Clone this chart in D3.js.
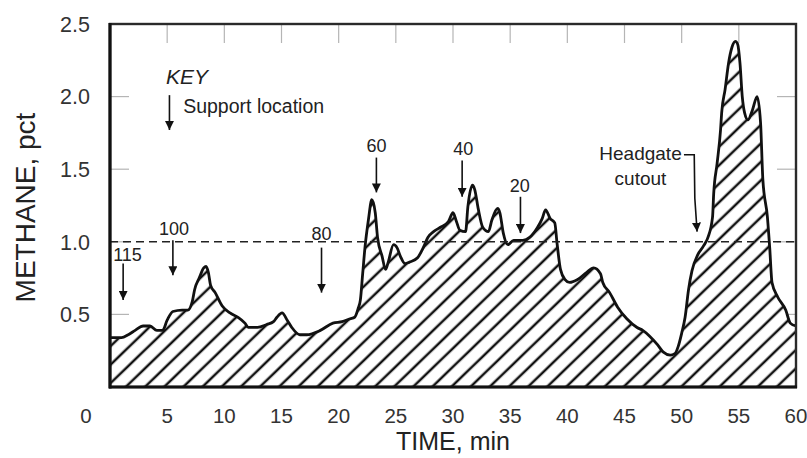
<!DOCTYPE html>
<html><head><meta charset="utf-8">
<script src="https://cdn.jsdelivr.net/npm/d3@7"></script>
<style>
html,body{margin:0;padding:0;background:#fff;}
svg{display:block;font-family:"Liberation Sans",Arial,Helvetica,sans-serif;}
</style></head>
<body>
<svg id="chart" width="807" height="458"></svg>
<script>
// ---- data ----
const time = [0.0,1.0,1.6,2.2,2.9,3.5,4.1,4.6,5.0,5.5,6.3,6.8,7.2,7.4,7.8,8.2,8.4,8.6,8.8,9.2,9.8,10.5,11.2,11.8,12.1,12.9,13.7,14.3,14.6,15.05,15.5,15.9,16.6,17.2,18.4,19.5,20.3,21.0,21.4,21.7,21.9,22.1,22.3,22.6,22.9,23.2,23.4,23.8,24.1,24.3,24.8,25.1,25.4,25.8,26.2,26.9,27.4,27.8,28.3,28.9,29.6,30.0,30.3,30.6,31.1,31.3,31.7,31.9,32.2,32.6,33.1,33.4,33.9,34.1,34.4,34.8,35.3,36.1,36.7,37.4,37.8,38.1,38.5,38.9,39.1,39.4,39.8,40.2,40.9,41.7,42.3,42.9,43.1,43.7,44.4,45.2,46.1,46.6,47.2,47.9,48.4,49.0,49.4,49.7,50.0,50.3,50.6,50.9,51.4,51.9,52.3,52.7,52.8,53.1,53.4,53.5,53.8,54.1,54.4,54.7,54.9,55.1,55.3,55.5,55.8,56.2,56.6,56.9,57.1,57.5,57.7,57.9,58.4,59.1,59.5,60.0];
const methane = [0.34,0.34,0.36,0.39,0.42,0.42,0.39,0.39,0.46,0.52,0.53,0.53,0.59,0.67,0.75,0.82,0.83,0.79,0.70,0.65,0.56,0.51,0.48,0.44,0.41,0.41,0.43,0.45,0.48,0.51,0.46,0.41,0.36,0.36,0.39,0.44,0.45,0.47,0.48,0.54,0.60,0.78,0.96,1.15,1.29,1.20,1.03,0.90,0.81,0.85,0.98,0.96,0.90,0.85,0.86,0.89,0.96,1.03,1.07,1.10,1.14,1.20,1.14,1.08,1.07,1.24,1.39,1.36,1.23,1.10,1.07,1.15,1.23,1.20,1.06,0.98,1.01,1.01,1.03,1.10,1.16,1.22,1.16,1.13,0.99,0.81,0.74,0.72,0.74,0.79,0.82,0.78,0.72,0.65,0.55,0.47,0.41,0.39,0.35,0.29,0.24,0.22,0.23,0.28,0.37,0.48,0.67,0.80,0.91,0.97,1.03,1.17,1.33,1.54,1.77,1.89,2.05,2.23,2.34,2.38,2.36,2.23,2.00,1.89,1.84,1.91,2.00,1.82,1.43,1.17,0.96,0.72,0.62,0.53,0.44,0.42];
const xTicks = [0,5,10,15,20,25,30,35,40,45,50,55,60];
const yTicks = [0.5,1.0,1.5,2.0,2.5];
const threshold = 1.0;
// support-location annotations: label, arrow time, label level, arrow start level, arrow tip level
const supportLabels = ["115","100","80","60","40","20"];
const supportTimes  = [1.15,5.5,18.5,23.3,30.8,35.9];
const labelTimes    = [1.53,5.6,18.5,23.3,30.9,35.85];
const labelLevels   = [0.87,1.05,1.01,1.62,1.60,1.34];
const arrowFrom     = [0.85,1.01,0.96,1.58,1.56,1.31];
const arrowTo       = [0.60,0.77,0.65,1.34,1.31,1.06];

// ---- layout ----
const svg = d3.select("#chart");
const m = {left:110, right:796, top:24, bottom:387};
const x = d3.scaleLinear().domain([0,60]).range([m.left,m.right]);
const y = d3.scaleLinear().domain([0,2.5]).range([m.bottom,m.top]);

const defs = svg.append("defs");
const pat = defs.append("pattern").attr("id","hatch")
  .attr("patternUnits","userSpaceOnUse").attr("width",20).attr("height",13.3)
  .attr("patternTransform","rotate(-44)");
pat.append("line").attr("x1",-2).attr("x2",22).attr("y1",6.6).attr("y2",6.6)
  .attr("stroke","#111").attr("stroke-width",2.5);
defs.append("clipPath").attr("id","plotclip").append("rect")
  .attr("x",m.left).attr("y",m.top).attr("width",m.right-m.left).attr("height",m.bottom-m.top);
const mk = defs.append("marker").attr("id","arr").attr("viewBox","0 0 10 10")
  .attr("refX",10).attr("refY",5).attr("markerWidth",9).attr("markerHeight",9)
  .attr("markerUnits","userSpaceOnUse").attr("orient","auto");
mk.append("path").attr("d","M0,0 L10,5 L0,10 Z").attr("fill","#111");

const data = time.map((t,i)=>({t, v:methane[i]}));

// ticks (inner, light gray)
const tickLen = 19;
const tg = svg.append("g").attr("stroke","#b5b5b5").attr("stroke-width",1.2);
xTicks.filter(d=>d>0&&d<60).forEach(d=>{
  tg.append("line").attr("x1",x(d)).attr("x2",x(d)).attr("y1",m.top).attr("y2",m.top+tickLen);
  tg.append("line").attr("x1",x(d)).attr("x2",x(d)).attr("y1",m.bottom).attr("y2",m.bottom-tickLen);
});
yTicks.filter(d=>d<2.5).forEach(d=>{
  tg.append("line").attr("x1",m.left).attr("x2",m.left+tickLen).attr("y1",y(d)).attr("y2",y(d));
  tg.append("line").attr("x1",m.right).attr("x2",m.right-tickLen).attr("y1",y(d)).attr("y2",y(d));
});

// area with hatch
const area = d3.area().x(d=>x(d.t)).y0(y(0)).y1(d=>y(d.v)).curve(d3.curveMonotoneX);
const line = d3.line().x(d=>x(d.t)).y(d=>y(d.v)).curve(d3.curveMonotoneX);
const g = svg.append("g").attr("clip-path","url(#plotclip)");
g.append("path").datum(data).attr("d",area).attr("fill","#fff");
g.append("path").datum(data).attr("d",area).attr("fill","url(#hatch)");

// threshold dashed line
svg.append("line").attr("x1",x(0)).attr("x2",x(60)).attr("y1",y(threshold)).attr("y2",y(threshold))
  .attr("stroke","#222").attr("stroke-width",1.5).attr("stroke-dasharray","8,5");

g.append("path").datum(data).attr("d",line).attr("fill","none")
  .attr("stroke","#111").attr("stroke-width",2.8).attr("stroke-linejoin","round");

// frame
svg.append("rect").attr("x",m.left).attr("y",m.top).attr("width",m.right-m.left).attr("height",m.bottom-m.top)
  .attr("fill","none").attr("stroke","#2a2a2a").attr("stroke-width",2.4);
svg.append("line").attr("x1",m.left).attr("x2",m.left).attr("y1",m.top-1).attr("y2",m.bottom+1.5)
  .attr("stroke","#111").attr("stroke-width",3.2);
svg.append("line").attr("x1",m.left-1).attr("x2",m.right+1).attr("y1",m.bottom).attr("y2",m.bottom)
  .attr("stroke","#111").attr("stroke-width",3.2);

// tick labels
const lab = svg.append("g").attr("fill","#333").attr("font-size",20.5);
xTicks.forEach(d=>{
  lab.append("text").attr("x", d===0 ? x(d)-24 : x(d)).attr("y",423)
    .attr("text-anchor","middle").text(d);
});
lab.append("text").attr("x",90).attr("y",y(0.5)).attr("dy","0.36em").attr("text-anchor","end").attr("font-size",21.5).text("0.5");
yTicks.filter(d=>d>0.5).forEach(d=>{
  lab.append("text").attr("x",90).attr("y",y(d)).attr("dy","0.36em").attr("text-anchor","end").attr("font-size",21.5).text(d.toFixed(1));
});

// axis titles
svg.append("text").attr("x",(m.left+m.right)/2).attr("y",450).attr("text-anchor","middle")
  .attr("font-size",25).attr("fill","#222").text("TIME, min");
svg.append("text").attr("transform",`translate(35,${(m.top+m.bottom)/2+2}) rotate(-90)`)
  .attr("text-anchor","middle").attr("font-size",28).attr("fill","#222").text("METHANE, pct");

// key
svg.append("text").attr("x",x(4.9)).attr("y",y(2.09)).attr("font-size",21).attr("font-style","italic")
  .attr("fill","#222").text("KEY");
svg.append("line").attr("x1",x(5.2)).attr("x2",x(5.2)).attr("y1",y(2.01)).attr("y2",y(1.77))
  .attr("stroke","#111").attr("stroke-width",1.6).attr("marker-end","url(#arr)");
svg.append("text").attr("x",x(6.4)).attr("y",y(1.89)).attr("font-size",19.5).attr("fill","#222").text("Support location");

// support annotations
supportLabels.forEach((s,i)=>{
  svg.append("text").attr("x",x(labelTimes[i])).attr("y",y(labelLevels[i])).attr("text-anchor","middle")
    .attr("font-size",18).attr("fill","#222").text(s);
  svg.append("line").attr("x1",x(supportTimes[i])).attr("x2",x(supportTimes[i]))
    .attr("y1",y(arrowFrom[i])).attr("y2",y(arrowTo[i]))
    .attr("stroke","#111").attr("stroke-width",1.6).attr("marker-end","url(#arr)");
});

// headgate cutout
svg.append("text").attr("x",x(46.4)).attr("y",y(1.56)).attr("text-anchor","middle").attr("font-size",19)
  .attr("fill","#222").text("Headgate");
svg.append("text").attr("x",x(46.4)).attr("y",y(1.39)).attr("text-anchor","middle").attr("font-size",19)
  .attr("fill","#222").text("cutout");
svg.append("path").attr("d",`M${x(50.2)},${y(1.60)} L${x(51.1)},${y(1.60)} L${x(51.15)},${y(1.30)} L${x(51.35)},${y(1.07)}`)
  .attr("fill","none").attr("stroke","#111").attr("stroke-width",1.6).attr("marker-end","url(#arr)");
</script>
</body></html>
